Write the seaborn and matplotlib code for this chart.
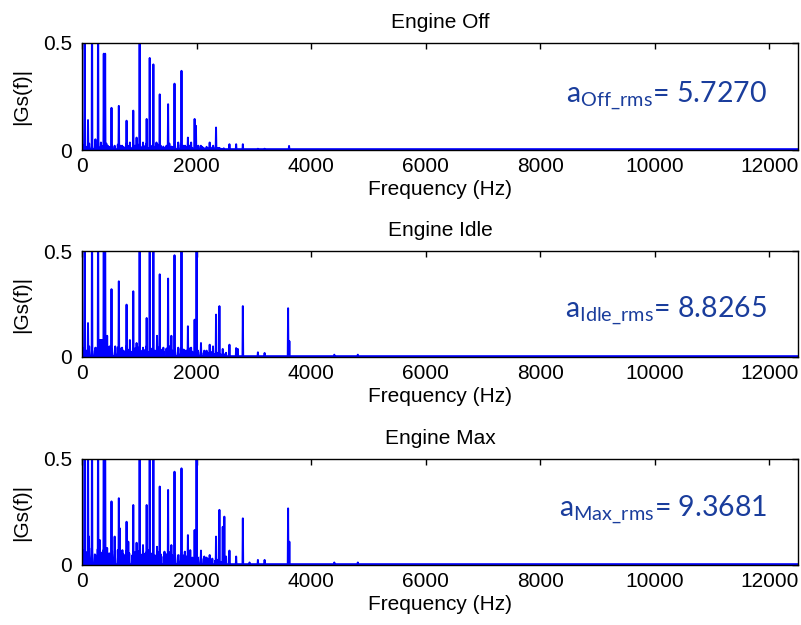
import numpy as np
import pandas as pd
import matplotlib
matplotlib.use("Agg")
import matplotlib.pyplot as plt
import seaborn as sns

# ---------------- data ----------------
titles = ["Engine Off", "Engine Idle", "Engine Max"]
rms_labels = ["Off", "Idle", "Max"]
rms_values = ["5.7270", "8.8265", "9.3681"]

# dominant spectral lines (Hz, |Gs(f)|); values > 0.5 are clipped by the axis
freq_off = [0, 47, 105, 175, 234, 281, 330, 380, 404, 450, 515, 570, 643, 700, 778, 836, 895,
            953, 1006, 1065, 1129, 1182, 1246, 1300, 1357, 1420, 1503, 1560, 1615, 1680,
            1737, 1800, 1849, 1905, 1966, 1989, 2030, 2100, 2229, 2290, 2340, 2400, 2574,
            2691, 2808, 3071, 3188, 3615]
amp_off = [0.21, 0.80, 0.14, 0.80, 0.05, 0.80, 0.035, 0.45, 0.45, 0.02, 0.197, 0.02, 0.206,
           0.02, 0.137, 0.035, 0.184, 0.058, 0.80, 0.035, 0.145, 0.43, 0.40, 0.035, 0.26,
           0.016, 0.214, 0.016, 0.31, 0.035, 0.37, 0.02, 0.058, 0.035, 0.145, 0.113, 0.02,
           0.015, 0.035, 0.02, 0.105, 0.01, 0.027, 0.027, 0.027, 0.006, 0.006, 0.019]

freq_idle = [0, 47, 105, 175, 234, 281, 310, 330, 350, 380, 404, 439, 480, 515, 580, 643,
             700, 778, 836, 895, 953, 1006, 1065, 1129, 1182, 1246, 1310, 1357, 1420, 1503,
             1560, 1615, 1680, 1737, 1800, 1849, 1905, 1966, 2000, 2077, 2135, 2229, 2287,
             2340, 2399, 2457, 2515, 2574, 2691, 2720, 2808, 3071, 3188, 3598, 3620, 4405, 4815]
amp_idle = [0.32, 0.80, 0.16, 0.80, 0.044, 0.80, 0.08, 0.08, 0.08, 0.80, 0.80, 0.10, 0.05,
            0.32, 0.05, 0.357, 0.044, 0.247, 0.08, 0.31, 0.066, 0.80, 0.044, 0.184, 0.80,
            0.80, 0.10, 0.39, 0.044, 0.37, 0.10, 0.48, 0.044, 0.80, 0.03, 0.145, 0.044,
            0.176, 0.80, 0.066, 0.03, 0.058, 0.05, 0.20, 0.24, 0.038, 0.02, 0.058, 0.042,
            0.038, 0.24, 0.022, 0.019, 0.23, 0.075, 0.011, 0.011]

freq_max = [0, 18, 47, 105, 122, 175, 234, 281, 310, 380, 404, 439, 515, 570, 643, 660,
            705, 778, 808, 895, 953, 1006, 1065, 1129, 1150, 1182, 1246, 1310, 1357, 1440,
            1503, 1560, 1615, 1680, 1737, 1795, 1849, 1890, 1966, 2000, 2077, 2135, 2229,
            2340, 2399, 2457, 2485, 2515, 2574, 2691, 2808, 2925, 3071, 3188, 3598, 3620,
            4405, 4815]
amp_max = [0.80, 0.06, 0.80, 0.80, 0.134, 0.80, 0.047, 0.80, 0.118, 0.80, 0.80, 0.08, 0.30,
           0.134, 0.315, 0.173, 0.07, 0.204, 0.11, 0.283, 0.105, 0.80, 0.094, 0.283, 0.07,
           0.80, 0.80, 0.086, 0.37, 0.063, 0.354, 0.094, 0.44, 0.047, 0.456, 0.063, 0.141,
           0.07, 0.165, 0.80, 0.068, 0.04, 0.047, 0.134, 0.26, 0.18, 0.228, 0.04, 0.068,
           0.04, 0.22, 0.012, 0.024, 0.024, 0.267, 0.11, 0.012, 0.012]

# low-level floor between the lines, one value every 50 Hz from 25 Hz to 2475 Hz
floor_off = [0.02, 0.015, 0.03, 0.02, 0.01, 0.025, 0.015, 0.02, 0.03, 0.015, 0.02, 0.01,
             0.025, 0.02, 0.015, 0.03, 0.02, 0.01, 0.02, 0.025, 0.015, 0.02, 0.03, 0.01,
             0.02, 0.015, 0.025, 0.02, 0.01, 0.02, 0.03, 0.015, 0.02, 0.01, 0.025, 0.02,
             0.015, 0.02, 0.01, 0.02, 0.015, 0.02, 0.01, 0.015, 0.01, 0.012, 0.008, 0.01,
             0.006, 0.008]
floor_idle = [0.04, 0.03, 0.05, 0.035, 0.03, 0.045, 0.03, 0.04, 0.05, 0.03, 0.035, 0.025,
              0.045, 0.04, 0.03, 0.05, 0.035, 0.025, 0.04, 0.045, 0.03, 0.035, 0.05, 0.025,
              0.04, 0.03, 0.045, 0.035, 0.025, 0.04, 0.05, 0.03, 0.035, 0.025, 0.04, 0.035,
              0.03, 0.04, 0.025, 0.035, 0.03, 0.025, 0.02, 0.03, 0.02, 0.025, 0.015, 0.02,
              0.012, 0.015]
floor_max = [0.07, 0.06, 0.08, 0.065, 0.05, 0.075, 0.06, 0.07, 0.08, 0.055, 0.065, 0.05,
             0.07, 0.06, 0.05, 0.065, 0.055, 0.045, 0.06, 0.065, 0.05, 0.055, 0.06, 0.04,
             0.055, 0.045, 0.06, 0.05, 0.04, 0.05, 0.06, 0.045, 0.05, 0.04, 0.05, 0.045,
             0.04, 0.045, 0.035, 0.04, 0.035, 0.04, 0.03, 0.035, 0.03, 0.03, 0.02, 0.025,
             0.015, 0.02]
floor_freq = list(range(25, 2500, 50))

baseline = 0.004
f_max = 12500

freqs = [freq_off, freq_idle, freq_max]
amps = [amp_off, amp_idle, amp_max]
floors = [floor_off, floor_idle, floor_max]


def spectrum_frame(freq, amp, floor):
    pts = sorted(list(zip(freq, amp)) + list(zip(floor_freq, floor)))
    xs, ys = [0.0], [baseline]
    for f, a in pts:
        xs += [f - 6, f, f + 6]
        ys += [baseline, a, baseline]
    xs.append(f_max)
    ys.append(baseline)
    return pd.DataFrame({"Frequency": xs, "Gs": ys})


# ---------------- figure ----------------
sns.set_theme(style="white")
plt.rcParams["font.family"] = ["Liberation Sans", "DejaVu Sans"]
plt.rcParams["text.color"] = "black"
plt.rcParams["axes.labelcolor"] = "black"

fig = plt.figure(figsize=(8.01, 6.25), dpi=100)
left, width = 82 / 801, (798 - 82) / 801
boxes = [(43, 150), (251, 357), (459, 565)]
text_y = [0.44, 0.37, 0.45]
fs = 15

for i, (top, bot) in enumerate(boxes):
    ax = fig.add_axes([left, 1 - bot / 625, width, (bot - top) / 625])
    df = spectrum_frame(freqs[i], amps[i], floors[i])
    sns.lineplot(data=df, x="Frequency", y="Gs", ax=ax, color="#0000ff",
                 linewidth=1.4, estimator=None, sort=False)
    ax.set_xlim(0, f_max)
    ax.set_ylim(0, 0.5)
    ax.set_xticks([0, 2000, 4000, 6000, 8000, 10000, 12000])
    ax.set_yticks([0, 0.5])
    ax.set_yticklabels(["0", "0.5"])
    ax.tick_params(axis="both", direction="in", length=4, width=1, top=True, right=True,
                   labelsize=fs, colors="black")
    ax.tick_params(axis="x", pad=5)
    ax.tick_params(axis="y", pad=7)
    for s in ax.spines.values():
        s.set_color("black")
        s.set_linewidth(1.0)
    ax.set_xlabel("Frequency (Hz)", fontsize=fs, labelpad=3, color="black")
    ax.set_ylabel("|Gs(f)|", fontsize=fs, labelpad=9, color="black")
    ax.set_title(titles[i], fontsize=fs, pad=11, color="black")
    ax.text(0.957, text_y[i],
            r"$\mathregular{a_{%s\_rms}}$= %s" % (rms_labels[i], rms_values[i]),
            transform=ax.transAxes, ha="right", va="baseline",
            fontsize=20.5, color="#1a3d9c", family="Lato")

fig.savefig("out.png", dpi=100)
